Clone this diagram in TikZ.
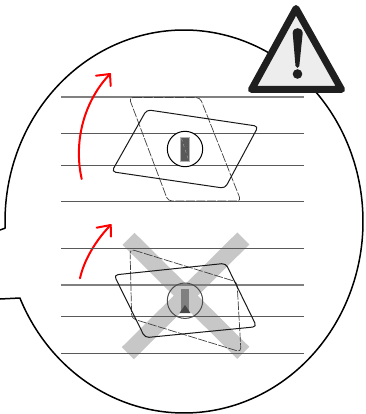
\documentclass[tikz,border=0pt]{standalone}
\tikzset{
  bubble/.style={line width=1.5pt,black,line join=round},
  rule/.style={line width=1.1pt,black!50},
  thinrule/.style={line width=1pt,black!65},
  solidcard/.style={line width=1pt,black!90,rounded corners=4pt},
  dashcard/.style={line width=.7pt,black!75,rounded corners=4pt,dash pattern=on 9pt off 1.5pt on 9pt off 1.5pt},
  redarrow/.style={line width=2pt,red,line cap=round,line join=round},
  crossbar/.style={line width=17pt,black!22},
}
\begin{document}
\begin{tikzpicture}[x=1pt,y=-1pt]
\useasboundingbox (0,0) rectangle (365,414);
\fill[white] (0,0) rectangle (365,414);
% speech bubble
\draw[bubble] (0,299) -- (20,298) -- plot[domain=156:-182,samples=240,smooth] ({184+179*cos(\x)},{221.5+191.5*sin(\x)}) -- (0,230);
% upper lines
\foreach \y/\s in {97/rule,133.5/thinrule,165.5/thinrule,201.5/thinrule}
  \draw[\s] (61,\y) -- (304,\y);
\draw[dashcard] (129,97.5) -- (200,97.5) -- (241,201) -- (168,201) -- cycle;
\draw[solidcard] (146.7,109.7) -- (258.3,126.3) -- (225,188.3) -- (111.7,171.7) -- cycle;
\draw[line width=1pt,black,fill=white] (185,149) circle (17.7);
\fill[black!65,draw=black!30,line width=.5pt] (180.7,137.5) rectangle (189.3,161);
\draw[black!35,line width=.4pt,dashed] (181.5,138.5) -- (188.5,160);
\draw[redarrow] (81.7,179) .. controls (73,140) and (85,100) .. (110,74);
\draw[redarrow] (96,75.7) -- (110,74) -- (110.7,86);
\draw[redarrow] (80,278.3) .. controls (84,260) and (96,240) .. (110.7,225);
\draw[redarrow] (96.7,227.7) -- (110.7,225) -- (111,236.7);
% lower cross
\draw[crossbar] (128.5,238.8) -- (243.3,352.8);
\draw[crossbar] (243.3,238.5) -- (127.8,353.2);
% lower lines
\foreach \y/\s in {248.5/thinrule,285/rule,316.5/thinrule,353.5/thinrule}
  \draw[\s] (61,\y) -- (304,\y);
\draw[dashcard] (130,249) -- (237,282) -- (241,352) -- (131.7,318.5) -- cycle;
\draw[solidcard] (114,275) -- (225.7,263.3) -- (256.7,326.7) -- (145,337.7) -- cycle;
\draw[line width=1pt,black!70] (185,300.7) circle (17.7);
\fill[black!50] (180.7,289) rectangle (189.3,313);
\fill[black!72] (185,305) -- (179.5,313) -- (190.5,313) -- cycle;
% warning sign
\draw[line width=7pt,line join=round,fill=black!7,draw=black!88] (296,8.5) -- (341.5,89.5) -- (251.5,89.5) -- cycle;
\fill[black!88] (292.7,33) .. controls (293,26.5) and (302.2,26.5) .. (302.7,33) -- (299.3,66) .. controls (299,68.5) and (295.8,68.5) .. (295.5,66) -- cycle;
\fill[black!88] (297.5,74) circle (4.8);
\end{tikzpicture}
\end{document}
